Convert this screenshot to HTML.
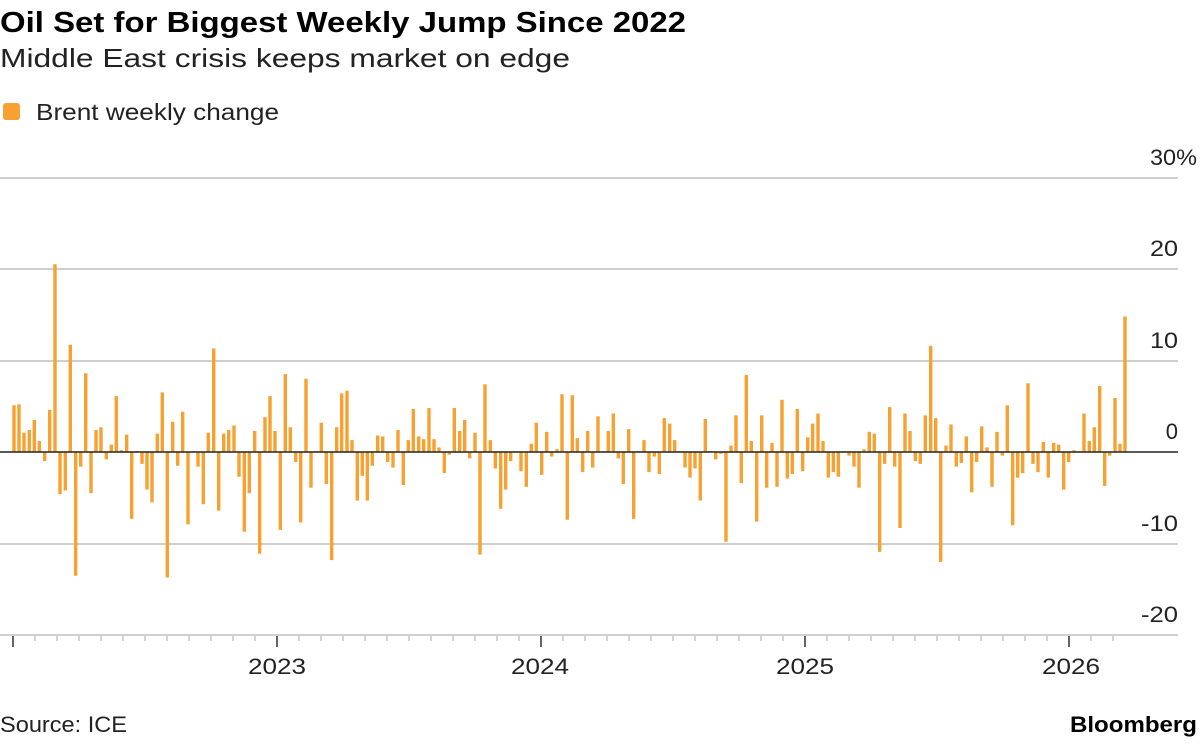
<!DOCTYPE html>
<html><head><meta charset="utf-8"><style>
body{margin:0;background:#fff;width:1200px;height:742px;overflow:hidden;font-family:"Liberation Sans",sans-serif;}
</style></head><body>
<svg width="1200" height="742" xmlns="http://www.w3.org/2000/svg" font-family="Liberation Sans, sans-serif">
<text x="0" y="32" font-size="29" font-weight="bold" fill="#000" textLength="686" lengthAdjust="spacingAndGlyphs">Oil Set for Biggest Weekly Jump Since 2022</text>
<text x="0" y="67" font-size="26" fill="#222" textLength="570" lengthAdjust="spacingAndGlyphs">Middle East crisis keeps market on edge</text>
<rect x="3" y="103" width="17" height="17" rx="3" fill="#f7a131"/>
<text x="36" y="120" font-size="23" fill="#222" textLength="243" lengthAdjust="spacingAndGlyphs">Brent weekly change</text>
<g stroke="#cfcfcf" stroke-width="2">
<line x1="0" x2="1178" y1="178" y2="178"/><line x1="0" x2="1178" y1="269" y2="269"/>
<line x1="0" x2="1178" y1="361" y2="361"/><line x1="0" x2="1178" y1="544" y2="544"/>
<line x1="0" x2="1178" y1="635" y2="635"/>
</g>
<g font-size="22" fill="#222" text-anchor="end">
<text x="1197" y="165" textLength="47" lengthAdjust="spacingAndGlyphs">30%</text><text x="1178" y="256" textLength="28" lengthAdjust="spacingAndGlyphs">20</text><text x="1178" y="348" textLength="28" lengthAdjust="spacingAndGlyphs">10</text>
<text x="1178" y="439">0</text><text x="1178" y="531" textLength="37" lengthAdjust="spacingAndGlyphs">-10</text><text x="1178" y="622" textLength="37" lengthAdjust="spacingAndGlyphs">-20</text>
</g>
<g id="bars" fill="#f7a131"></g>
<line x1="0" x2="1178" y1="452" y2="452" stroke="#222" stroke-width="1.5"/>
<g id="ticks" stroke="#aaa" stroke-width="1"></g>
<g font-size="22" fill="#222" text-anchor="middle">
<text x="277" y="674" textLength="58" lengthAdjust="spacingAndGlyphs">2023</text><text x="540" y="674" textLength="58" lengthAdjust="spacingAndGlyphs">2024</text><text x="805" y="674" textLength="58" lengthAdjust="spacingAndGlyphs">2025</text><text x="1071" y="674" textLength="58" lengthAdjust="spacingAndGlyphs">2026</text>
</g>
<text x="0" y="732" font-size="22" fill="#222" textLength="127" lengthAdjust="spacingAndGlyphs">Source: ICE</text>
<text x="1197" y="732" font-size="22" font-weight="bold" fill="#000" text-anchor="end" textLength="127" lengthAdjust="spacingAndGlyphs">Bloomberg</text>
</svg>
<script>
var d=[14,5.1,19,5.2,24,2.1,29.3,2.4,34.3,3.5,39.3,1.2,44.7,-1.0,49.7,4.6,55,20.5,60,-4.6,65.3,-4.2,70.3,11.7,75.7,-13.5,80.7,-1.6,85.7,8.6,91,-4.5,96,2.4,101,2.7,106.3,-0.8,111.3,0.8,116.3,6.1,121.3,0.2,126.7,1.9,131.7,-7.3,136.7,0.1,142,-1.3,147,-4.1,152,-5.5,157.3,2.0,162.3,6.5,167.3,-13.7,172.7,3.3,177.7,-1.5,182.7,4.4,188,-7.9,193,0.1,198,-1.6,203.3,-5.7,208.3,2.1,213.7,11.3,218.7,-6.4,223.7,2.0,228.7,2.4,234,2.9,239,-2.7,244.3,-8.7,249.3,-4.5,254.7,2.3,259.7,-11.1,265,3.8,270,6.1,275,2.3,280.3,-8.5,285.3,8.5,290.3,2.7,
295.7,-1.1,300.7,-7.7,306,8.0,311,-3.9,316,0.1,321.3,3.2,326.3,-3.5,331.7,-11.8,336.7,2.7,341.7,6.4,347,6.7,352,1.3,357.3,-5.3,362.3,-2.6,367.3,-5.3,372.3,-1.5,377.7,1.8,382.7,1.7,387.7,-1.1,393,-1.7,398,2.4,403.3,-3.6,408.3,1.3,413.3,4.7,418.7,1.7,423.7,1.4,429,4.8,434,1.4,439,0.5,444.3,-2.3,449.3,-0.3,454.3,4.8,459.7,2.3,464.7,3.5,469.7,-0.7,475,2.1,480,-11.2,485,7.4,490.3,1.3,495.3,-1.8,500.7,-6.2,505.7,-4.1,510.7,-1.0,516,0.1,521,-2.1,526.3,-3.8,531.3,0.9,536.3,3.2,541.7,-2.5,546.7,2.2,551.7,-0.5,557,0.3,562,6.3,567.3,-7.4,
572.3,6.2,577.3,1.5,582.7,-2.2,587.7,2.3,592.7,-1.7,598,3.9,603,0.1,608.3,2.3,613.3,4.2,618.3,-0.7,623.3,-3.5,628.7,2.5,633.7,-7.3,639,0.1,644,1.3,649,-2.2,654.3,-0.5,659.3,-2.4,664.3,3.7,669.7,3.1,674.7,1.3,679.7,0.1,685,-1.7,690,-2.8,695,-1.8,700.3,-5.3,705.3,3.6,710.3,0.1,715.7,-0.8,720.7,-0.2,726,-9.8,731,0.7,736,4.0,741.3,-3.4,746.3,8.4,751.3,1.2,756.7,-7.6,761.7,4.0,766.7,-3.9,772,1.0,777,-3.8,782,5.7,787.3,-2.9,792.3,-2.4,797.3,4.7,802.7,-2.1,807.7,1.6,812.7,3.1,818,4.2,823,1.2,828.3,-2.8,833.3,-2.2,838.3,-2.7,843.5,0.1,
849,-0.4,854,-1.6,859,-3.9,864,0.3,869.3,2.2,874.3,2.0,879.7,-10.9,884.7,-1.3,889.7,4.9,894.7,-1.6,900,-8.3,905,4.2,910,2.3,915.3,-1.0,920.3,-1.3,925.3,4.0,930.7,11.6,935.7,3.7,940.7,-12.0,946,0.7,951,3.0,956.3,-1.6,961.3,-1.2,966.3,1.7,971.7,-4.4,976.7,-1.1,981.7,2.8,987,0.5,992,-3.8,997,2.2,1002.3,-0.4,1007.3,5.1,1012.7,-8.0,1017.7,-2.8,1022.7,-2.3,1028,7.5,1033,-1.3,1038,-2.2,1043.3,1.1,1048.3,-2.8,1053.7,1.0,1058.7,0.8,1063.7,-4.1,1068.7,-1.1,1074,0.2,1079,0.1,1084,4.2,1089.3,1.2,1094.3,2.7,1099.7,7.2,1104.7,-3.7,1109.7,-0.4,1115,5.9,1120,0.9,1125,14.8];
var ns="http://www.w3.org/2000/svg",g=document.getElementById("bars"),s=9.16;
for(var i=0;i<d.length;i+=2){var x=d[i],v=d[i+1],h=Math.abs(v)*s,r=document.createElementNS(ns,"rect");
r.setAttribute("x",x-1.7);r.setAttribute("width",3.4);r.setAttribute("y",v>=0?452-h:452);r.setAttribute("height",h);g.appendChild(r);}
var t=document.getElementById("ticks");
for(var k=-12;k<=39;k++){var x=277+k*(264/12);if(x<8||x>1125)continue;var L=document.createElementNS(ns,"line");
var yr=(k%12===0);L.setAttribute("x1",x);L.setAttribute("x2",x);L.setAttribute("y1",636);L.setAttribute("y2",yr?647:641);if(yr){L.setAttribute("stroke","#333");L.setAttribute("stroke-width","1.5");}t.appendChild(L);}
</script>
</body></html>
